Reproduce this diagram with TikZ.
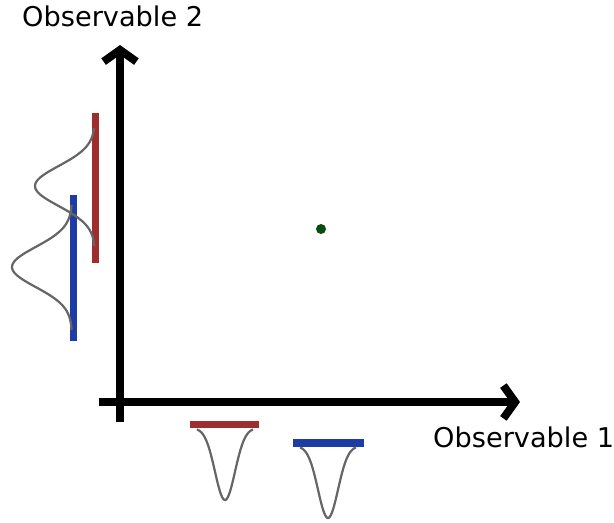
\documentclass[tikz,border=0pt]{standalone}
\usepackage{fontspec}
\setmainfont{DejaVu Sans}
\usetikzlibrary{arrows.meta}

\definecolor{barred}{RGB}{160,45,45}
\definecolor{barblue}{RGB}{30,60,165}
\definecolor{dotgreen}{RGB}{10,75,20}

\begin{document}
\begin{tikzpicture}[x=0.03cm,y=-0.03cm,
	axis/.style={line width=6.8pt,-{Straight Barb[length=10pt,width=28pt,line width=6.8pt,line join=miter]}},
	bar/.style={line width=6pt},
	bell/.style={black!60,line width=1.9pt,smooth},
	label/.style={font=\fontsize{23.2}{27}\selectfont,inner sep=0pt,anchor=base west}]
	\useasboundingbox (0,0) rectangle (614,522);
	% axes
	\coordinate (O1) at (99,402);
	\coordinate (X) at (520,402);
	\coordinate (O2) at (120,422);
	\coordinate (Y) at (120,45);
	\draw [axis] (O1) -- (X);
	\draw [axis] (O2) -- (Y);
	\node [label] (ob2) at (22,26) {Observable 2};
	\node [label] (ob1) at (433,447) {Observable 1};
	% point
	\fill [dotgreen] (321,229) circle (5);
	% bars
	\draw [bar,barred] (95.5,113) -- (95.5,263);
	\draw [bar,barblue] (73.5,195) -- (73.5,341);
	\draw [bar,barred] (190,424.5) -- (259,424.5);
	\draw [bar,barblue] (293,443) -- (364,443);
	% distributions
	\draw [bell] plot[domain=128:246,samples=60] ({95-60*exp(-((\x-186)/20)^2/2)},\x);
	\draw [bell] plot[domain=205:330,samples=60] ({72-60*exp(-((\x-267)/20)^2/2)},\x);
	\draw [bell] plot[domain=197:253,samples=50] (\x,{428+72*exp(-((\x-225)/10)^2/2)});
	\draw [bell] plot[domain=300:356,samples=50] (\x,{446+72*exp(-((\x-328)/10)^2/2)});
\end{tikzpicture}
\end{document}
